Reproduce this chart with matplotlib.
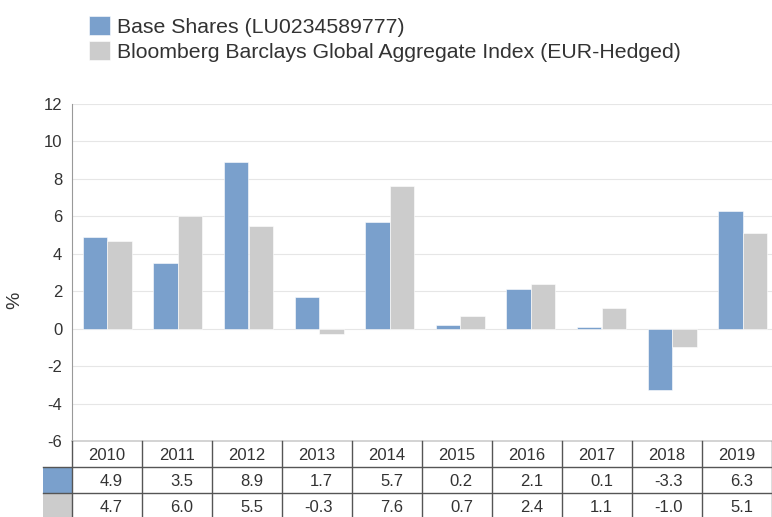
import matplotlib

matplotlib.use("Agg")
import matplotlib.pyplot as plt
from matplotlib.patches import Rectangle

years = ["2010", "2011", "2012", "2013", "2014", "2015", "2016", "2017", "2018", "2019"]
fund = [4.9, 3.5, 8.9, 1.7, 5.7, 0.2, 2.1, 0.1, -3.3, 6.3]
index = [4.7, 6.0, 5.5, -0.3, 7.6, 0.7, 2.4, 1.1, -1.0, 5.1]
fund_label = "Base Shares (LU0234589777)"
index_label = "Bloomberg Barclays Global Aggregate Index (EUR-Hedged)"

BLUE = "#7aa0cc"
GREY = "#cccccc"
TEXT = "#333333"
LINE = "#555555"

plt.rcParams["font.family"] = ["Liberation Sans", "DejaVu Sans"]
plt.rcParams["axes.unicode_minus"] = False

W, H = 772, 517
fig = plt.figure(figsize=(W / 100, H / 100), dpi=100)


def px_box(x0, y0, x1, y1):
    # pixel box (top-left origin) -> figure fraction rect
    return [x0 / W, 1 - y1 / H, (x1 - x0) / W, (y1 - y0) / H]


# plot area runs a little past the right edge, like the original
ax = fig.add_axes(px_box(72, 104, 778, 441))
x = list(range(len(years)))
w = 0.345
ax.bar([i - 0.174 for i in x], fund, width=w, color=BLUE, edgecolor="white",
       linewidth=0.4, label=fund_label, zorder=3)
ax.bar([i + 0.174 for i in x], index, width=w, color=GREY, edgecolor="white",
       linewidth=0.4, label=index_label, zorder=3)
ax.set_xlim(-0.5, len(years) - 0.5)
ax.set_ylim(-6, 12)
ax.set_yticks(range(-6, 13, 2))
ax.set_xticks([])
ax.grid(axis="y", color="#e6e6e6", linewidth=0.8, zorder=0)
for side in ("top", "right", "bottom"):
    ax.spines[side].set_visible(False)
ax.spines["left"].set_color("#999999")
ax.tick_params(axis="y", length=0, pad=7, labelsize=12, labelcolor=TEXT)
fig.text(15 / W, 1 - 300 / H, "%", rotation=90, fontsize=14, color=TEXT,
         ha="center", va="center")

leg = ax.legend(loc="upper left", bbox_to_anchor=(89 / W, 1 - 16 / H),
                bbox_transform=fig.transFigure, frameon=False, fontsize=15.3,
                handlelength=1.0, handleheight=1.0, handletextpad=0.3,
                labelspacing=0.22, borderpad=0, borderaxespad=0)
for t in leg.get_texts():
    t.set_color(TEXT)

# data table under the chart, laid out in pixel units
tab = fig.add_axes(px_box(43, 441, 772, 519))
tab.set_xlim(43, 772)
tab.set_ylim(519, 441)
tab.axis("off")
col_w = 70
row_h = 26
x0 = 72
tab.plot([x0, 772], [441, 441], color="#cccccc", linewidth=1.2, clip_on=False)
tab.add_patch(Rectangle((43, 441 + row_h), x0 - 43, row_h, color=BLUE, lw=0))
tab.add_patch(Rectangle((43, 441 + 2 * row_h), x0 - 43, row_h, color=GREY, lw=0))
for k in range(len(years) + 1):
    xv = x0 + k * col_w
    tab.plot([xv, xv], [441, 519], color=LINE, linewidth=1.0, clip_on=False)
for r in (1, 2):
    tab.plot([43, 772], [441 + r * row_h] * 2, color=LINE, linewidth=1.0, clip_on=False)
for k, yr in enumerate(years):
    cx = x0 + k * col_w
    tab.text(cx + col_w / 2, 441 + row_h / 2 + 1, yr, ha="center", va="center",
             fontsize=12, color=TEXT)
    tab.text(cx + col_w - 19, 441 + 1.5 * row_h + 1, f"{fund[k]:.1f}", ha="right",
             va="center", fontsize=12, color=TEXT)
    tab.text(cx + col_w - 19, 441 + 2.5 * row_h + 1, f"{index[k]:.1f}", ha="right",
             va="center", fontsize=12, color=TEXT)

fig.savefig("out.png", dpi=100)
